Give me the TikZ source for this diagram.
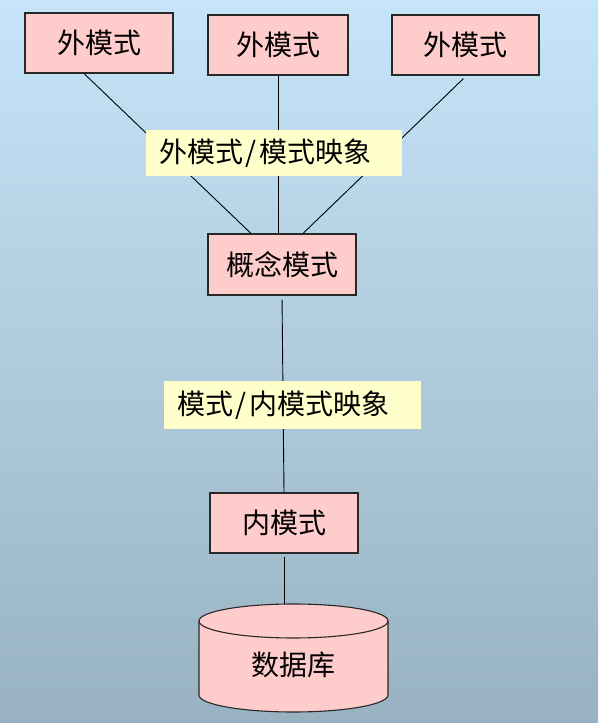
\documentclass[tikz,border=0pt]{standalone}
\usepackage{fontspec}
\newfontfamily\cjk{Noto Sans CJK SC}
\usetikzlibrary{calc}
\definecolor{bgtop}{RGB}{198,229,249}
\definecolor{bgbot}{RGB}{152,178,193}
\definecolor{boxpink}{RGB}{255,204,204}
\definecolor{lblyellow}{RGB}{255,255,204}
\definecolor{edge}{RGB}{40,40,40}
\newcommand{\slashsep}{\kern3pt/\kern3pt}
\tikzset{
  cjkfont/.style={font=\cjk\fontsize{28}{33}\selectfont},
  schemabox/.style={draw=edge, line width=1.1pt, fill=boxpink, inner sep=0pt, cjkfont},
  maplabel/.style={fill=lblyellow, inner ysep=0pt, inner xsep=13pt, align=left, cjkfont},
  link/.style={draw=black, line width=0.9pt}
}
\begin{document}
\begin{tikzpicture}[x=1pt,y=1pt]
\shade[top color=bgtop, bottom color=bgbot] (0,0) rectangle (598,723);
\useasboundingbox (0,0) rectangle (598,723);
% nodes
\node[schemabox, minimum width=148pt, minimum height=60pt] (e1) at (99,680) {外模式};
\node[schemabox, minimum width=140pt, minimum height=60pt] (e2) at (278,678) {外模式};
\node[schemabox, minimum width=147pt, minimum height=60pt] (e3) at (465.5,678) {外模式};
\node[schemabox, minimum width=148pt, minimum height=61pt] (c) at (282,458.5) {概念模式};
\node[schemabox, minimum width=148pt, minimum height=60pt] (i) at (284,200) {内模式};
% cylinder
\coordinate (dbtop) at (293.5,119);
\fill[boxpink] (199,102) -- (199,28) arc[start angle=180, end angle=360, x radius=94.5, y radius=17] -- (388,102) arc[start angle=0, end angle=180, x radius=94.5, y radius=17] -- cycle;
\draw[edge, line width=1.1pt] (293.5,102) ellipse[x radius=94.5, y radius=17];
\draw[edge, line width=1.1pt] (199,102) -- (199,28) arc[start angle=180, end angle=360, x radius=94.5, y radius=17] -- (388,102);
\node[cjkfont] (db) at (293.5,58) {数据库};
% connectors
\draw[link] ($(e1.south)+(-15,0)$) -- ($(c.north)+(-31,0)$);
\draw[link] (e2.south) -- (e2.south |- c.north);
\draw[link] ($(e3.south)+(-2,-3)$) -- ($(c.north)+(21,0)$);
\draw[link, shorten <=4pt] (c.south) -- (i.north);
\draw[link, shorten <=3pt] (i.south) -- (i.south |- dbtop);
% labels on top of connectors
\node[maplabel, minimum width=256pt, minimum height=46pt, text width=230pt] (m1) at (274,570) {外模式\slashsep 模式映象};
\node[maplabel, minimum width=257pt, minimum height=48pt, text width=231pt] (m2) at (292.5,318) {模式\slashsep 内模式映象};
\end{tikzpicture}
\end{document}
